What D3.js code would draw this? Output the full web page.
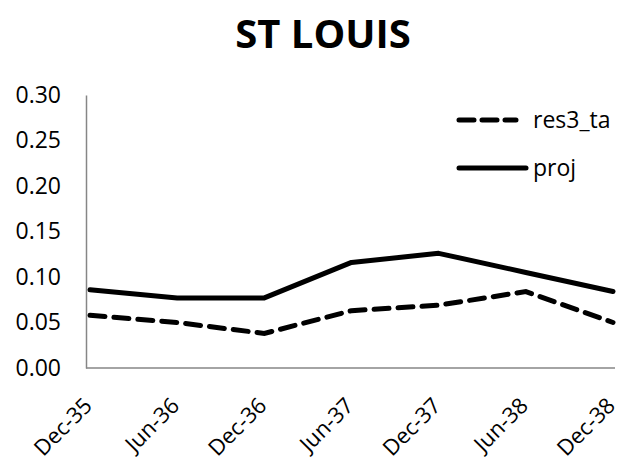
<!DOCTYPE html>
<html>
<head>
<meta charset="utf-8">
<script src="https://cdn.jsdelivr.net/npm/d3@7"></script>
<style>
  body { margin: 0; background: #fff; }
  text { font-family: "Open Sans", "Noto Sans", sans-serif; }
</style>
</head>
<body>
<div id="chart"></div>
<script>
var months = ["Dec-35", "Jun-36", "Dec-36", "Jun-37", "Dec-37", "Jun-38", "Dec-38"];
var res3_ta = [0.058, 0.050, 0.038, 0.063, 0.069, 0.084, 0.050];
var proj = [0.086, 0.077, 0.077, 0.116, 0.126, 0.105, 0.084];
var yTicks = [0, 0.05, 0.10, 0.15, 0.20, 0.25, 0.30];

var margin = { top: 95, left: 86, right: 5, bottom: 94 },
    width = 620 - margin.left - margin.right,
    height = 462 - margin.top - margin.bottom;

var svg = d3.select("#chart")
    .append("svg")
    .attr("width", 620)
    .attr("height", 462)
    .append("g")
    .attr("transform", "translate(" + margin.left + "," + margin.top + ")");

var xPositionScale = d3.scalePoint()
    .domain(months)
    .range([4, width - 2]);

var yPositionScale = d3.scaleLinear()
    .domain([0, 0.30])
    .range([height, 0]);

// title
svg.append("text")
    .text("ST LOUIS")
    .attr("x", 323 - margin.left)
    .attr("y", 48 - margin.top)
    .attr("text-anchor", "middle")
    .attr("font-size", "40px")
    .attr("font-weight", "bold");

// axes
var yAxis = d3.axisLeft(yPositionScale)
    .tickValues(yTicks)
    .tickSize(0)
    .tickPadding(25)
    .tickFormat(d3.format(".2f"));

var yg = svg.append("g").attr("class", "axis y-axis").call(yAxis);
yg.select(".domain").attr("stroke", "#868686").attr("stroke-width", 1.5);
yg.selectAll("text").attr("font-size", "23px").attr("fill", "#000")
    .style("font-family", "'Open Sans', sans-serif");

var xAxis = d3.axisBottom(xPositionScale).tickSize(0).tickPadding(0);
var xg = svg.append("g")
    .attr("class", "axis x-axis")
    .attr("transform", "translate(0," + height + ")")
    .call(xAxis);
xg.select(".domain").attr("d", "M0,0H" + width).attr("stroke", "#868686").attr("stroke-width", 1.5);
xg.selectAll("text")
    .attr("font-size", "22px")
    .attr("fill", "#000")
    .style("font-family", "'Open Sans', sans-serif")
    .attr("text-anchor", "end")
    .attr("dy", 0)
    .attr("y", 0)
    .attr("transform", "translate(3,39) rotate(-45)");

// lines
var line = d3.line()
    .x(function(d, i) { return xPositionScale(months[i]); })
    .y(function(d) { return yPositionScale(d); });

svg.append("path")
    .datum(proj)
    .attr("d", line)
    .attr("fill", "none")
    .attr("stroke", "#000")
    .attr("stroke-width", 5)
    .attr("stroke-linejoin", "round")
    .attr("stroke-linecap", "round");

svg.append("path")
    .datum(res3_ta)
    .attr("d", line)
    .attr("fill", "none")
    .attr("stroke", "#000")
    .attr("stroke-width", 5)
    .attr("stroke-dasharray", "15,9")
    .attr("stroke-linecap", "round");

// legend
var legendItems = [
  { name: "res3_ta", dash: "15,8", y: 120, x2: 516 },
  { name: "proj", dash: null, y: 168, x2: 526 }
];
legendItems.forEach(function(d) {
  svg.append("line")
      .attr("x1", 459 - margin.left).attr("x2", d.x2 - margin.left)
      .attr("y1", d.y - margin.top).attr("y2", d.y - margin.top)
      .attr("stroke", "#000")
      .attr("stroke-width", 5)
      .attr("stroke-linecap", "round")
      .attr("stroke-dasharray", d.dash);
  svg.append("text")
      .text(d.name)
      .attr("x", 533 - margin.left)
      .attr("y", d.y - margin.top)
      .attr("dy", "0.35em")
      .attr("font-size", "23px");
});
</script>
</body>
</html>
